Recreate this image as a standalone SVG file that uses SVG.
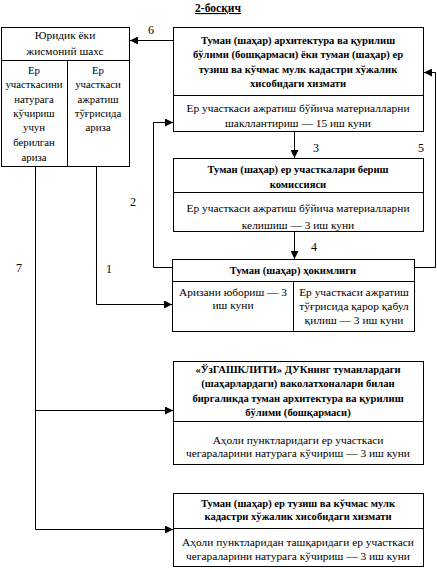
<svg xmlns="http://www.w3.org/2000/svg" width="437" height="569" viewBox="0 0 437 569">
<defs>
<marker id="arr" viewBox="0 0 8 8" refX="8" refY="4" markerWidth="8" markerHeight="8" markerUnits="userSpaceOnUse" orient="auto">
<path d="M0,0 L8,4 L0,8 Z" fill="#000"/>
</marker>
<style>
text{font-family:"Liberation Serif","Times New Roman",serif;font-size:11.4px;fill:#000;text-anchor:middle}
.b{font-weight:bold;font-size:10.6px}
.s{font-size:10.8px}
.l{fill:#fff;stroke:#000;stroke-width:1}
.c{fill:none;stroke:#000;stroke-width:1}
.lab{text-anchor:start;font-size:12px}
</style>
</defs>
<rect width="437" height="569" fill="#fff"/>
<text class="b" x="218" y="12" text-decoration="underline" style="font-size:11.5px">2-босқич</text>

<g id="applicant">
<rect class="l" x="1.5" y="27.5" width="128" height="139"/>
<line class="c" x1="1.5" y1="60.5" x2="129.5" y2="60.5"/>
<line class="c" x1="67.5" y1="60.5" x2="67.5" y2="166.5"/>
<text x="65" y="39">Юридик ёки</text>
<text x="65" y="55">жисмоний шахс</text>
<text class="s" x="34" y="74">Ер</text>
<text class="s" x="34" y="88">участкасини</text>
<text class="s" x="34" y="103">натурага</text>
<text class="s" x="34" y="117">кўчириш</text>
<text class="s" x="34" y="131">учун</text>
<text class="s" x="34" y="146">берилган</text>
<text class="s" x="34" y="161">ариза</text>
<text class="s" x="98" y="74">Ер</text>
<text class="s" x="98" y="88">участкаси</text>
<text class="s" x="98" y="103">ажратиш</text>
<text class="s" x="98" y="117">тўғрисида</text>
<text class="s" x="98" y="131">ариза</text>
</g>

<g id="architecture">
<rect class="l" x="173.5" y="27.5" width="250" height="104"/>
<line class="c" x1="173.5" y1="95.5" x2="423.5" y2="95.5"/>
<text class="b" x="298" y="44">Туман (шаҳар) архитектура ва қурилиш</text>
<text class="b" x="298" y="58">бўлими (бошқармаси) ёки туман (шаҳар) ер</text>
<text class="b" x="298" y="73">тузиш ва кўчмас мулк кадастри хўжалик</text>
<text class="b" x="298" y="87">хисобидаги хизмати</text>
<text x="298" y="112">Ер участкаси ажратиш бўйича материалларни</text>
<text x="298" y="127">шакллантириш — 15 иш куни</text>
</g>

<g id="commission">
<rect class="l" x="173.5" y="158.5" width="250" height="73"/>
<line class="c" x1="173.5" y1="192.5" x2="423.5" y2="192.5"/>
<text class="b" x="298" y="173">Туман (шаҳар) ер участкалари бериш</text>
<text class="b" x="298" y="188">комиссияси</text>
<text x="298" y="212">Ер участкаси ажратиш бўйича материалларни</text>
<text x="298" y="229">келишиш — 3 иш куни</text>
</g>

<g id="hokimiyat">
<rect class="l" x="172.5" y="259.5" width="242" height="72"/>
<line class="c" x1="172.5" y1="281.5" x2="414.5" y2="281.5"/>
<line class="c" x1="293.5" y1="281.5" x2="293.5" y2="331.5"/>
<text class="b" x="293" y="274">Туман (шаҳар) ҳокимлиги</text>
<text x="233" y="296">Аризани юбориш — 3</text>
<text x="233" y="309">иш куни</text>
<text x="354" y="296">Ер участкаси ажратиш</text>
<text x="354" y="310">тўғрисида қарор қабул</text>
<text x="354" y="324">қилиш — 3 иш куни</text>
</g>

<g id="uzgashkliti">
<rect class="l" x="173.5" y="361.5" width="250" height="103"/>
<line class="c" x1="173.5" y1="421.5" x2="423.5" y2="421.5"/>
<text class="b" x="298" y="373">«ЎзГАШКЛИТИ» ДУКнинг туманлардаги</text>
<text class="b" x="298" y="387">(шаҳарлардаги) ваколатхоналари билан</text>
<text class="b" x="298" y="402">биргаликда туман архитектура ва қурилиш</text>
<text class="b" x="298" y="416">бўлими (бошқармаси)</text>
<text x="298" y="444">Аҳоли пунктларидаги ер участкаси</text>
<text x="298" y="457">чегараларини натурага кўчириш — 3 иш куни</text>
</g>

<g id="cadastre">
<rect class="l" x="173.5" y="493.5" width="250" height="73"/>
<line class="c" x1="173.5" y1="528.5" x2="423.5" y2="528.5"/>
<text class="b" x="298" y="507">Туман (шаҳар) ер тузиш ва кўчмас мулк</text>
<text class="b" x="298" y="520">кадастри хўжалик хисобидаги хизмати</text>
<text x="298" y="546">Аҳоли пунктларидан ташқаридаги ер участкаси</text>
<text x="298" y="560">чегараларини натурага кўчириш — 3 иш куни</text>
</g>

<g id="connectors">
<path class="c" d="M96.5,166.5 V304.5 H172" marker-end="url(#arr)"/>
<path class="c" d="M172.5,267.5 H153.5 V122.5 H173" marker-end="url(#arr)"/>
<path class="c" d="M294.5,131.5 V158" marker-end="url(#arr)"/>
<path class="c" d="M294.5,231.5 V259" marker-end="url(#arr)"/>
<path class="c" d="M414.5,267.5 H435.5 V72.5 H424" marker-end="url(#arr)"/>
<path class="c" d="M173.5,40.5 H130" marker-end="url(#arr)"/>
<path class="c" d="M35.5,166.5 V529.5 H173" marker-end="url(#arr)"/>
<path class="c" d="M35.5,410.5 H173" marker-end="url(#arr)"/>
<text class="lab" x="148" y="34">6</text>
<text class="lab" x="313" y="152">3</text>
<text class="lab" x="418" y="152">5</text>
<text class="lab" x="130" y="206">2</text>
<text class="lab" x="311" y="251">4</text>
<text class="lab" x="106" y="273">1</text>
<text class="lab" x="16" y="272">7</text>
</g>
</svg>
